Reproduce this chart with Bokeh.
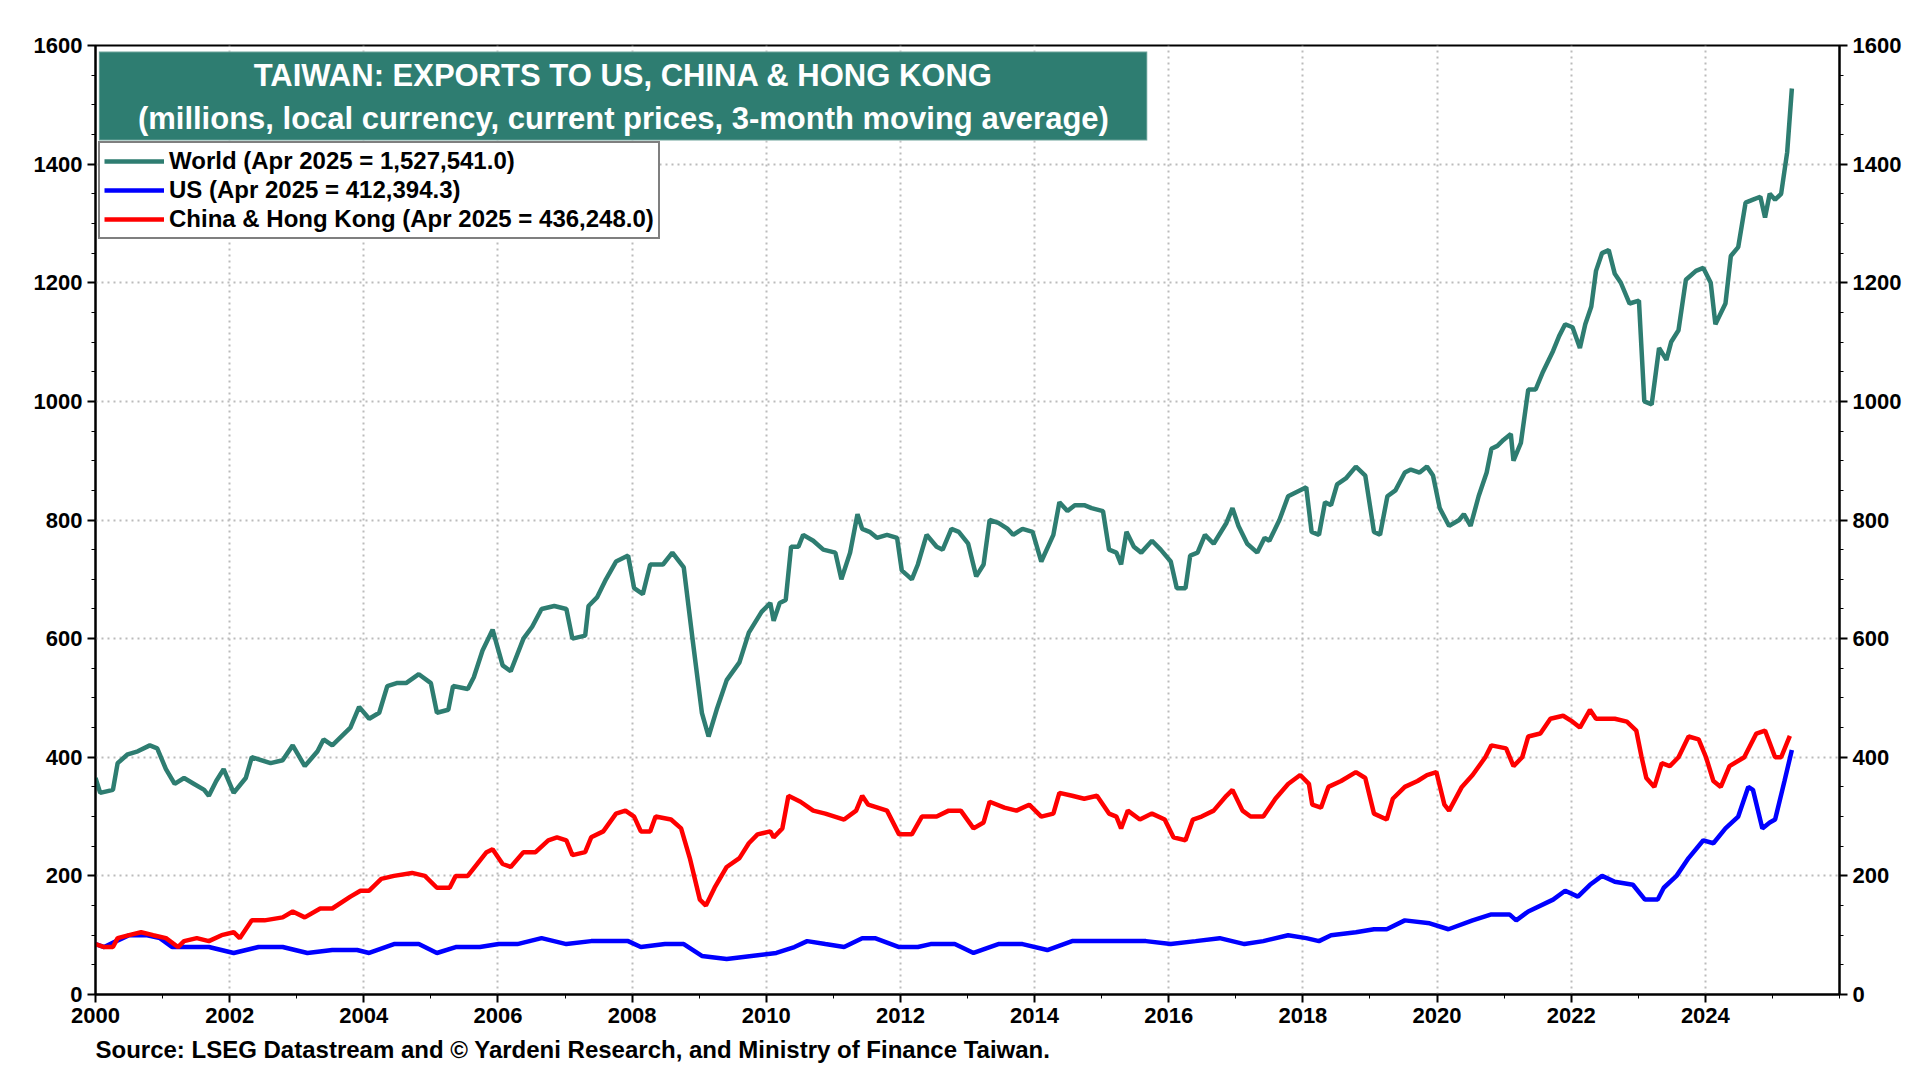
from bokeh.plotting import figure
from bokeh.models import (Range1d, LinearAxis, BoxAnnotation, Label, Legend, LegendItem,
                          FixedTicker, Title)
from bokeh.embed import file_html
from bokeh.resources import INLINE

world_t = [2000.00,2000.07,2000.26,2000.33,2000.48,2000.63,2000.81,2000.92,2001.05,2001.18,2001.32,2001.47,2001.62,2001.69,2001.80,2001.91,
2002.06,2002.24,2002.33,2002.61,2002.79,2002.94,2003.12,2003.31,2003.40,2003.53,2003.80,2003.93,2004.08,2004.23,2004.35,2004.49,2004.63,2004.82,
2005.00,2005.09,2005.26,2005.33,2005.55,2005.64,2005.77,2005.92,2006.07,2006.19,2006.38,2006.51,2006.65,2006.84,2007.02,2007.11,2007.30,2007.35,
2007.48,2007.61,2007.76,2007.94,2008.03,2008.16,2008.27,2008.46,2008.60,2008.77,2008.90,2009.04,2009.14,2009.26,2009.41,2009.60,2009.74,2009.93,
2010.06,2010.11,2010.20,2010.29,2010.37,2010.48,2010.55,2010.70,2010.85,2011.03,2011.12,2011.25,2011.36,2011.43,2011.54,2011.65,2011.80,2011.95,
2012.02,2012.17,2012.26,2012.39,2012.54,2012.63,2012.76,2012.87,2013.01,2013.13,2013.24,2013.33,2013.46,2013.60,2013.68,2013.82,2013.97,
2014.10,2014.28,2014.37,2014.49,2014.60,2014.74,2014.85,2015.02,2015.11,2015.22,2015.29,2015.37,2015.48,2015.59,2015.75,2015.88,
2016.03,2016.12,2016.25,2016.32,2016.43,2016.54,2016.67,2016.86,2016.95,2017.04,2017.17,2017.32,2017.43,2017.50,2017.65,2017.78,2017.96,
2018.05,2018.13,2018.24,2018.33,2018.42,2018.51,2018.64,2018.79,2018.93,2019.06,2019.15,2019.26,2019.38,2019.52,2019.61,2019.74,2019.85,2019.94,
2020.04,2020.18,2020.33,2020.40,2020.50,2020.62,2020.74,2020.81,2020.90,2020.99,2021.10,2021.14,2021.25,2021.36,2021.47,2021.58,2021.73,2021.82,2021.91,
2022.02,2022.13,2022.21,2022.30,2022.37,2022.46,2022.56,2022.65,2022.74,2022.87,2023.01,2023.09,2023.20,2023.31,2023.42,2023.49,2023.60,2023.71,2023.86,2023.97,
2024.08,2024.15,2024.30,2024.38,2024.49,2024.60,2024.71,2024.82,2024.89,2024.96,2025.04,2025.13,2025.22,2025.29]
world_v = [365,340,345,390,405,410,420,415,380,355,365,355,345,335,360,380,
340,365,400,390,395,420,385,410,430,420,450,485,465,475,520,525,525,540,
525,475,480,520,515,535,580,615,555,545,600,620,650,655,650,600,605,655,
670,700,730,740,685,675,725,725,745,720,600,475,435,480,530,560,610,645,
660,630,660,665,755,755,775,765,750,745,700,745,810,785,780,770,775,770,
715,700,725,775,755,750,785,780,760,705,725,800,795,785,775,785,780,
730,775,830,815,825,825,820,815,750,745,725,780,755,745,765,750,
730,685,685,740,745,775,760,795,820,790,760,745,770,765,800,840,850,
855,780,775,830,825,860,870,890,875,780,775,840,850,880,885,880,890,875,
820,790,800,810,790,840,880,920,925,935,945,900,930,1020,1020,1050,1085,1110,1130,
1125,1090,1130,1160,1220,1250,1255,1215,1200,1165,1170,1000,995,1090,1070,1100,1120,1205,1220,1225,
1200,1130,1165,1245,1260,1335,1340,1345,1310,1350,1340,1350,1420,1527.5]

us_t = [2000.00,2000.13,2000.31,2000.50,2000.77,2000.96,2001.14,2001.42,2001.69,2002.06,2002.43,2002.79,2003.16,2003.53,2003.90,
2004.08,2004.45,2004.82,2005.09,2005.37,2005.73,2006.01,2006.29,2006.65,2007.02,2007.39,2007.94,2008.13,2008.49,2008.77,
2009.04,2009.41,2009.78,2010.15,2010.42,2010.61,2010.88,2011.16,2011.43,2011.62,2011.98,2012.26,2012.45,2012.81,2013.09,
2013.46,2013.82,2014.19,2014.56,2014.93,2015.29,2015.66,2016.03,2016.40,2016.76,2017.13,2017.41,2017.78,2018.05,2018.24,
2018.42,2018.79,2019.06,2019.25,2019.52,2019.89,2020.17,2020.53,2020.81,2021.08,2021.18,2021.36,2021.73,2021.91,2022.10,
2022.28,2022.46,2022.65,2022.92,2023.10,2023.29,2023.38,2023.57,2023.75,2023.97,2024.12,2024.30,2024.49,2024.64,2024.71,
2024.85,2024.96,2025.04,2025.18,2025.29]
us_v = [85,80,90,100,100,95,80,80,80,70,80,80,70,75,75,
70,85,85,70,80,80,85,85,95,85,90,90,80,85,85,
65,60,65,70,80,90,85,80,95,95,80,80,85,85,70,
85,85,75,90,90,90,90,85,90,95,85,90,100,95,90,
100,105,110,110,125,120,110,125,135,135,125,140,160,175,165,
185,200,190,185,160,160,180,200,230,260,255,280,300,350,345,
280,290,295,360,412.4]

chk_t = [2000.00,2000.13,2000.26,2000.33,2000.50,2000.68,2000.86,2001.05,2001.23,2001.32,2001.51,2001.69,2001.88,
2002.06,2002.15,2002.33,2002.52,2002.79,2002.94,2003.12,2003.35,2003.53,2003.80,2003.95,2004.08,2004.26,2004.45,2004.72,2004.91,
2005.09,2005.28,2005.37,2005.55,2005.83,2005.92,2006.07,2006.19,2006.38,2006.56,2006.75,2006.88,2007.02,2007.11,2007.30,2007.39,
2007.57,2007.76,2007.90,2008.03,2008.13,2008.27,2008.35,2008.58,2008.73,2008.86,2009.01,2009.10,2009.23,2009.41,2009.60,2009.74,
2009.87,2010.06,2010.11,2010.24,2010.33,2010.51,2010.70,2010.88,2011.16,2011.34,2011.43,2011.52,2011.80,2011.98,2012.17,2012.32,
2012.54,2012.72,2012.90,2013.09,2013.24,2013.33,2013.55,2013.73,2013.92,2014.10,2014.28,2014.37,2014.56,2014.74,2014.93,
2015.11,2015.22,2015.29,2015.39,2015.57,2015.75,2015.94,2016.07,2016.25,2016.36,2016.49,2016.67,2016.86,2016.95,
2017.10,2017.22,2017.41,2017.59,2017.78,2017.96,2018.09,2018.14,2018.27,2018.38,2018.57,2018.79,2018.93,
2019.06,2019.25,2019.34,2019.52,2019.71,2019.85,2019.99,2020.11,2020.18,2020.37,2020.53,2020.72,2020.81,
2021.03,2021.14,2021.27,2021.36,2021.54,2021.69,2021.88,2022.02,2022.13,2022.28,2022.37,2022.65,2022.83,2022.97,
2023.05,2023.12,2023.24,2023.35,2023.47,2023.60,2023.75,2023.90,2024.01,2024.12,2024.23,2024.36,2024.58,2024.76,2024.89,
2025.04,2025.13,2025.26]
chk_v = [85,80,80,95,100,105,100,95,80,90,95,90,100,
105,95,125,125,130,140,130,145,145,165,175,175,195,200,205,200,
180,180,200,200,240,245,220,215,240,240,260,265,260,235,240,265,
275,305,310,300,275,275,300,295,280,230,160,150,180,215,230,255,
270,275,265,280,335,325,310,305,295,310,335,320,310,270,270,300,
300,310,310,280,290,325,315,310,320,300,305,340,335,330,335,
305,300,280,310,295,305,295,265,260,295,300,310,335,345,
310,300,300,330,355,370,355,320,315,350,360,375,365,
305,295,330,350,360,370,375,320,310,350,370,400,420,
415,385,400,435,440,465,470,460,450,480,465,465,460,445,
400,365,350,390,385,400,435,430,400,360,350,385,400,440,445,
400,400,436.2]

y_ticks = [0, 200, 400, 600, 800, 1000, 1200, 1400, 1600]
x_ticks = list(range(2000, 2026, 2))

teal = "#2E7D71"
p = figure(width=1904, height=1072, output_backend="svg", toolbar_location=None,
           x_range=Range1d(2000, 2026), y_range=Range1d(0, 1600),
           min_border_left=95, min_border_right=10, min_border_top=45, min_border_bottom=78,
           background_fill_color="white", border_fill_color="white")
p.outline_line_color = "black"
p.outline_line_width = 2

lw = dict(line_width=4.5)
r_world = p.line(world_t, world_v, line_color=teal, **lw)
r_us = p.line(us_t, us_v, line_color="#0000FF", **lw)
r_chk = p.line(chk_t, chk_v, line_color="#FF0000", **lw)

p.yaxis.ticker = FixedTicker(ticks=y_ticks, minor_ticks=list(range(0, 1601, 50)))
p.xaxis.ticker = FixedTicker(ticks=x_ticks, minor_ticks=list(range(2000, 2027)))
p.add_layout(LinearAxis(ticker=FixedTicker(ticks=y_ticks, minor_ticks=list(range(0, 1601, 50)))), "right")
for ax in p.xaxis + p.yaxis:
    ax.major_label_text_font = "Arial"
    ax.major_label_text_font_style = "bold"
    ax.major_label_text_font_size = "22px"
    ax.major_label_text_color = "black"
    ax.axis_line_color = "black"
    ax.axis_line_width = 2
    ax.major_tick_line_color = "black"
    ax.major_tick_line_width = 2
    ax.major_tick_out = 8
    ax.major_tick_in = 0
    ax.minor_tick_out = 4
    ax.minor_tick_in = 0
    ax.minor_tick_line_color = "black"

p.xgrid.ticker = FixedTicker(ticks=x_ticks)
p.ygrid.ticker = FixedTicker(ticks=y_ticks)
for g in (p.xgrid[0], p.ygrid[0]):
    g.grid_line_color = "#BBBBBB"
    g.grid_line_dash = "2 4"
    g.grid_line_width = 2

p.add_layout(BoxAnnotation(left=2000.05, right=2015.68, top=1590, bottom=1440,
                           fill_color=teal, fill_alpha=1, line_color="white", line_width=2))
p.add_layout(Label(x=2007.87, y=1549, text="TAIWAN: EXPORTS TO US, CHINA & HONG KONG",
                   text_align="center", text_baseline="middle", text_color="white",
                   text_font="Arial", text_font_style="bold", text_font_size="31px"))
p.add_layout(Label(x=2007.87, y=1477, text="(millions, local currency, current prices, 3-month moving average)",
                   text_align="center", text_baseline="middle", text_color="white",
                   text_font="Arial", text_font_style="bold", text_font_size="31px"))

leg = Legend(items=[LegendItem(label="World (Apr 2025 = 1,527,541.0)", renderers=[r_world]),
                    LegendItem(label="US (Apr 2025 = 412,394.3)", renderers=[r_us]),
                    LegendItem(label="China & Hong Kong (Apr 2025 = 436,248.0)", renderers=[r_chk])],
             location=(3, 755))
leg.border_line_color = "black"
leg.border_line_width = 2.5
leg.label_text_font = "Arial"
leg.label_text_font_style = "bold"
leg.label_text_font_size = "24px"
leg.label_text_color = "black"
leg.label_height = 24
leg.glyph_height = 24
leg.glyph_width = 60
leg.spacing = 1
leg.padding = 4
leg.margin = 0
leg.background_fill_alpha = 1
p.add_layout(leg)

p.add_layout(Title(text="Source: LSEG Datastream and © Yardeni Research, and Ministry of Finance Taiwan.",
                   text_font="Arial", text_font_style="bold", text_font_size="24px",
                   text_color="black", align="left", offset=0, standoff=16), "below")

open("out.html", "w").write(file_html(p, INLINE))
